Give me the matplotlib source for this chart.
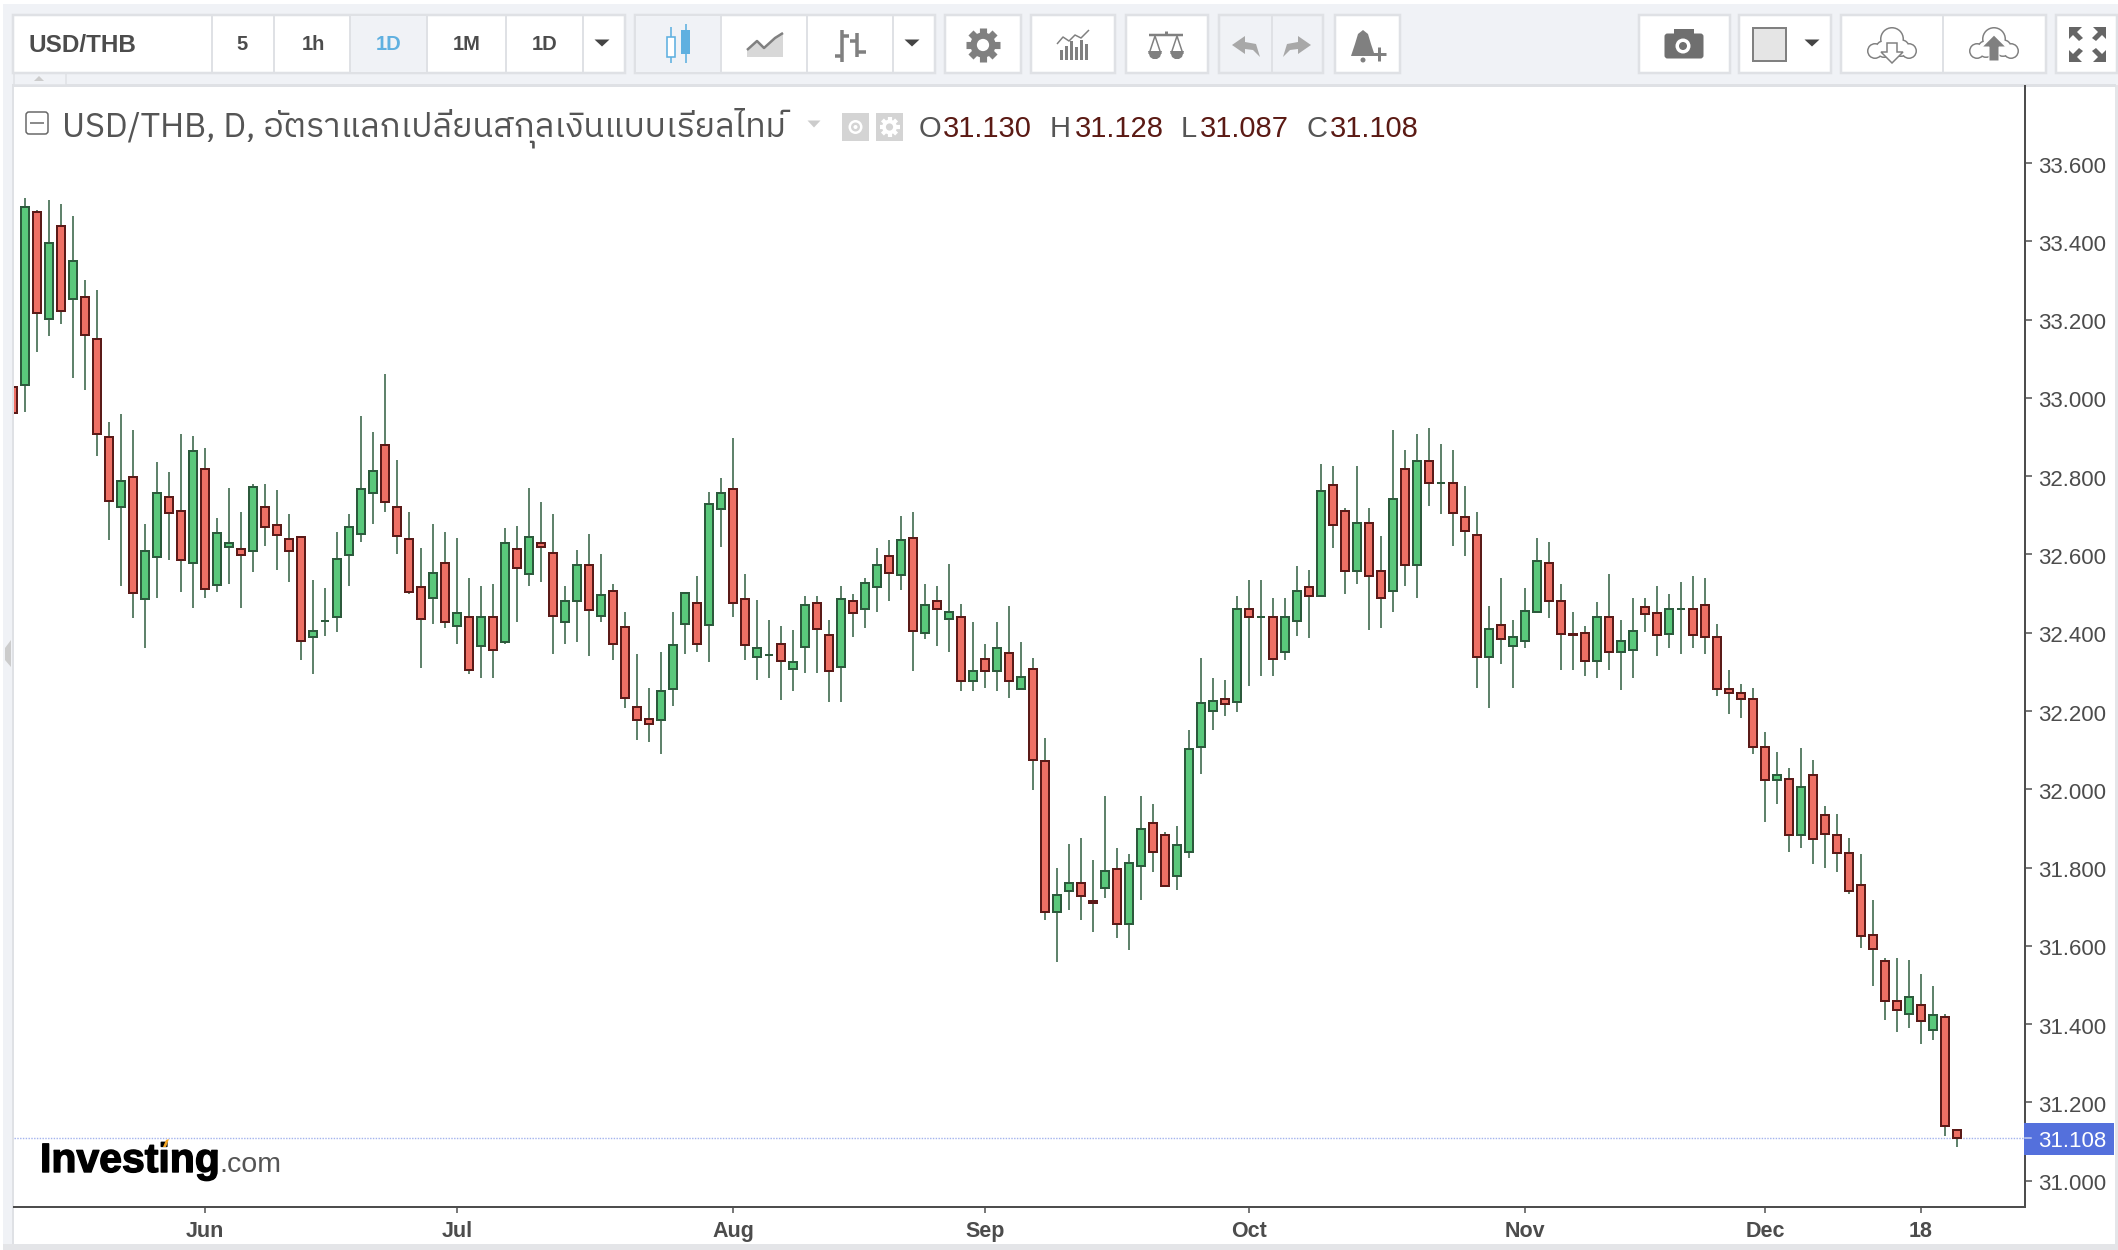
import numpy as np
import matplotlib
matplotlib.use("Agg")
import matplotlib.pyplot as plt
import matplotlib.patheffects as pe
from matplotlib import font_manager as fm
from matplotlib.ft2font import FT2Font
from matplotlib.patches import Rectangle, Circle, Polygon, FancyBboxPatch
from matplotlib.transforms import ScaledTranslation

# ---------- data ----------
opens = [33.029,
 33.033,33.474,33.201,33.438,33.252,33.259,33.151,32.901,32.720,32.799,
 32.485,32.593,32.748,32.712,32.577,32.819,32.521,32.618,32.615,32.608,
 32.722,32.676,32.640,32.645,32.388,32.431,32.439,32.598,32.653,32.756,
 32.880,32.722,32.640,32.517,32.490,32.578,32.418,32.440,32.367,32.440,
 32.377,32.614,32.551,32.630,32.604,32.428,32.480,32.573,32.444,32.507,
 32.415,32.210,32.180,32.178,32.255,32.423,32.476,32.419,32.716,32.768,
 32.487,32.337,32.344,32.370,32.307,32.363,32.477,32.395,32.312,32.482,
 32.460,32.516,32.595,32.547,32.641,32.399,32.482,32.435,32.441,32.276,
 32.334,32.302,32.349,32.256,32.308,32.073,31.687,31.739,31.761,31.714,
 31.749,31.796,31.657,31.805,31.914,31.883,31.779,31.841,32.107,32.199,
 32.231,32.224,32.461,32.441,32.441,32.352,32.429,32.517,32.495,32.778,
 32.712,32.557,32.681,32.558,32.506,32.819,32.572,32.839,32.783,32.783,
 32.696,32.650,32.337,32.420,32.367,32.378,32.454,32.579,32.482,32.398,
 32.400,32.327,32.441,32.352,32.357,32.466,32.451,32.398,32.460,32.461,
 32.472,32.390,32.257,32.247,32.231,32.109,32.025,32.027,31.882,32.037,
 31.935,31.884,31.838,31.756,31.628,31.562,31.459,31.427,31.449,31.386,
 31.418,31.130]
closes = [32.961,
 33.489,33.216,33.397,33.221,33.351,33.160,32.909,32.736,32.788,32.501,
 32.610,32.758,32.705,32.587,32.865,32.511,32.656,32.630,32.598,32.773,
 32.669,32.649,32.608,32.378,32.405,32.431,32.589,32.671,32.768,32.814,
 32.735,32.648,32.505,32.434,32.553,32.428,32.451,32.306,32.440,32.357,
 32.630,32.566,32.645,32.618,32.444,32.481,32.573,32.459,32.497,32.372,
 32.234,32.178,32.168,32.251,32.369,32.502,32.372,32.728,32.758,32.475,
 32.368,32.360,32.344,32.327,32.324,32.472,32.409,32.302,32.487,32.450,
 32.528,32.574,32.552,32.636,32.404,32.472,32.460,32.452,32.276,32.303,
 32.302,32.360,32.276,32.288,32.076,31.687,31.730,31.761,31.728,31.710,
 31.791,31.657,31.812,31.899,31.841,31.754,31.858,32.103,32.221,32.226,
 32.219,32.461,32.439,32.441,32.332,32.441,32.507,32.495,32.763,32.674,
 32.557,32.681,32.546,32.490,32.742,32.572,32.839,32.782,32.783,32.705,
 32.659,32.337,32.410,32.383,32.390,32.456,32.584,32.480,32.398,32.394,
 32.327,32.441,32.352,32.380,32.405,32.449,32.393,32.461,32.460,32.393,
 32.388,32.255,32.245,32.230,32.107,32.025,32.037,31.882,32.006,31.872,
 31.887,31.836,31.739,31.626,31.591,31.458,31.437,31.470,31.407,31.424,
 31.141,31.108]
highs = [33.060,
 33.510,33.479,33.506,33.496,33.465,33.301,33.276,32.938,32.959,32.918,
 32.678,32.836,32.811,32.908,32.903,32.872,32.693,32.770,32.708,32.780,
 32.780,32.765,32.703,32.645,32.535,32.514,32.657,32.703,32.953,32.912,
 33.061,32.841,32.708,32.616,32.677,32.657,32.641,32.539,32.519,32.524,
 32.667,32.672,32.769,32.733,32.703,32.519,32.611,32.652,32.601,32.524,
 32.452,32.345,32.258,32.350,32.452,32.502,32.544,32.760,32.796,32.898,
 32.550,32.484,32.433,32.417,32.407,32.494,32.494,32.433,32.520,32.499,
 32.540,32.617,32.637,32.699,32.709,32.525,32.520,32.576,32.474,32.428,
 32.371,32.428,32.469,32.377,32.335,32.130,31.798,31.860,31.875,31.819,
 31.982,31.849,31.834,31.982,31.962,31.890,31.906,32.151,32.335,32.284,
 32.279,32.493,32.534,32.534,32.488,32.488,32.570,32.560,32.831,32.826,
 32.719,32.826,32.719,32.647,32.918,32.867,32.908,32.923,32.882,32.867,
 32.775,32.708,32.468,32.540,32.432,32.514,32.642,32.632,32.524,32.453,
 32.417,32.478,32.550,32.432,32.489,32.489,32.519,32.499,32.530,32.545,
 32.540,32.422,32.305,32.269,32.259,32.146,32.095,32.054,32.105,32.075,
 31.957,31.936,31.875,31.834,31.717,31.568,31.568,31.563,31.528,31.497,
 31.425,31.130]
lows = [32.930,
 32.965,33.118,33.159,33.189,33.052,33.021,32.852,32.638,32.520,32.438,
 32.362,32.489,32.587,32.505,32.464,32.489,32.505,32.525,32.464,32.556,
 32.622,32.561,32.530,32.331,32.295,32.392,32.403,32.520,32.632,32.678,
 32.709,32.601,32.499,32.310,32.423,32.412,32.371,32.295,32.284,32.284,
 32.371,32.428,32.520,32.530,32.346,32.371,32.376,32.341,32.428,32.330,
 32.208,32.126,32.121,32.090,32.213,32.346,32.351,32.326,32.618,32.439,
 32.331,32.280,32.285,32.229,32.250,32.296,32.296,32.224,32.224,32.388,
 32.413,32.454,32.480,32.510,32.301,32.383,32.367,32.352,32.250,32.250,
 32.260,32.250,32.234,32.256,31.998,31.666,31.559,31.692,31.666,31.635,
 31.722,31.620,31.589,31.717,31.789,31.754,31.743,31.825,32.039,32.152,
 32.188,32.198,32.264,32.290,32.290,32.331,32.392,32.387,32.495,32.617,
 32.500,32.525,32.408,32.413,32.454,32.520,32.489,32.724,32.704,32.622,
 32.597,32.259,32.208,32.321,32.259,32.362,32.454,32.438,32.305,32.305,
 32.290,32.285,32.305,32.254,32.285,32.403,32.341,32.362,32.346,32.362,
 32.346,32.239,32.193,32.183,32.091,31.917,31.963,31.840,31.850,31.810,
 31.799,31.789,31.733,31.595,31.498,31.411,31.380,31.390,31.349,31.360,
 31.114,31.087]
month_labels = ["Jun", "Jul", "Aug", "Sep", "Oct", "Nov", "Dec", "18"]
month_index = [15, 36, 59, 80, 102, 125, 145, 158]
price_ticks = [31.0, 31.2, 31.4, 31.6, 31.8, 32.0, 32.2, 32.4, 32.6, 32.8,
               33.0, 33.2, 33.4, 33.6]
positions = np.arange(-1, len(opens) - 1)

# ---------- fonts ----------
plt.rcParams["font.family"] = ["Liberation Sans", "DejaVu Sans"]
thai_font = None
for f in fm.fontManager.ttflist:
    try:
        if 0x0E2D in FT2Font(f.fname).get_charmap():
            thai_font = f.name
            if "Noto" in f.name or "Sans" in f.name:
                break
    except Exception:
        pass
title_family = ([thai_font] if thai_font else []) + ["Liberation Sans", "DejaVu Sans"]

# ---------- figure ----------
W, H = 2118, 1250
px = 0.72
fig = plt.figure(figsize=(W / 100, H / 100), dpi=100, facecolor="white")
ui = fig.add_axes([0, 0, 1, 1], zorder=0)
ui.set_xlim(0, W); ui.set_ylim(H, 0); ui.axis("off")

BG = "#f0f2f6"; EDGE = "#dfe1e5"; ICON = "#808080"; TXT = "#4c4c4c"; BLUE = "#5fb0e0"

def rect(x0, y0, x1, y1, fc="white", ec="none", lw=0, z=1, **kw):
    ui.add_patch(Rectangle((x0, y0), x1 - x0, y1 - y0, fc=fc, ec=ec, lw=lw * px, zorder=z, **kw))

def line(xs, ys, c=ICON, lw=2, z=3, **kw):
    ui.plot(xs, ys, color=c, lw=lw * px, zorder=z, solid_capstyle="butt", **kw)

def tri(cx, cy, w=15, h=7, c="#444444", z=3):
    ui.add_patch(Polygon([(cx - w / 2, cy - h / 2), (cx + w / 2, cy - h / 2), (cx, cy + h / 2)], fc=c, ec="none", zorder=z))

# background chrome
rect(3, 4, W, 85, fc=BG)
rect(3, 4, 14, 1250, fc=BG)
rect(12, 85, 14, 1244, fc=EDGE)
rect(3, 1244, W, H, fc="#e4e5e8")
rect(2115, 85, W, H, fc="#e4e5e8")
rect(12, 84, 2116, 87, fc=EDGE)
rect(14, 73, 66, 85, fc=BG, ec=EDGE, lw=1.5)
ui.add_patch(Polygon([(34, 81), (44, 81), (39, 76)], fc="#cccccc", ec="none", zorder=3))
ui.add_patch(Polygon([(11, 640), (11, 667), (5, 660), (5, 648)], fc="#cccccc", ec="none", zorder=3))

# toolbar groups
def group(x0, x1, seps=(), fc="white"):
    rect(x0, 15, x1, 73, fc=fc, ec=EDGE, lw=2.5, z=1)
    for s in seps:
        line([s, s], [15, 73], c=EDGE, lw=2, z=2)

group(13, 625, (212, 274, 350, 427, 506, 583))
rect(351, 16, 427, 72, fc=BG, z=1.5)
group(635, 935, (721, 807, 893))
rect(636, 16, 721, 72, fc=BG, z=1.5)
group(945, 1021)
group(1031, 1115)
group(1126, 1208)
group(1219, 1323, (1272,), fc=BG)
group(1335, 1400)
group(1639, 1730)
group(1739, 1831)
group(1841, 2046, (1943,))
group(2056, 2117)

for s, x, c in [("USD/THB", 28, TXT)]:
    ui.text(x, 45, s, fontsize=17.5, fontweight="bold", color=c, va="center", ha="left", zorder=4)
for s, x, c in [("5", 242, TXT), ("1h", 313, TXT), ("1D", 389, BLUE), ("1M", 467, TXT), ("1D", 545, TXT)]:
    ui.text(x, 45, s, fontsize=14.5, fontweight="bold", color=c, va="center", ha="center", zorder=4)
tri(602, 43); tri(912, 43); tri(1812, 43)

# candle icon
line([671, 671], [27, 63], c=BLUE, lw=1.6)
ui.add_patch(Rectangle((667, 37), 8, 20, fc="white", ec=BLUE, lw=1.6 * px, zorder=4))
line([686, 686], [24, 63], c=BLUE, lw=1.6)
rect(681, 30, 690, 54, fc=BLUE, z=4)
# area icon
ui.add_patch(Polygon([(747, 57), (747, 50), (757, 41), (764, 48), (775, 38), (783, 33), (783, 57)], fc="#d8d8d8", ec="none", zorder=3))
line([747, 757, 764, 775, 783], [50, 41, 48, 38, 33], c=ICON, lw=2.5, z=4)
# bars icon
line([842, 842], [30, 62], lw=3.5); line([835, 842], [56, 56], lw=3.5); line([842, 849], [36, 36], lw=3.5)
line([857, 857], [33, 57], lw=3.5); line([850, 857], [41, 41], lw=3.5); line([857, 866], [52, 52], lw=3.5)

# gear
def gear(cx, cy, r, c=ICON, hole="white", z=3, tooth=None):
    tooth = tooth or r * 0.42
    for a in np.arange(0, np.pi, np.pi / 4):
        dx, dy = r * np.cos(a), r * np.sin(a)
        ui.plot([cx - dx, cx + dx], [cy - dy, cy + dy], color=c, lw=tooth * px, zorder=z, solid_capstyle="butt")
    ui.add_patch(Circle((cx, cy), r * 0.74, fc=c, ec="none", zorder=z))
    ui.add_patch(Circle((cx, cy), r * 0.36, fc=hole, ec="none", zorder=z + 0.1))

gear(983, 45, 17)
# indicators icon
for x, t in [(1061, 50), (1066, 46), (1071, 41), (1076, 47), (1081, 40), (1086, 44)]:
    rect(x - 1.5, t, x + 1.5, 60, fc=ICON, z=3)
line([1057, 1063, 1069, 1075, 1081, 1089], [44, 37, 41, 35, 38, 30], lw=1.5, z=4)
# scales icon
line([1149, 1183], [35, 35], lw=2.5); line([1166, 1166], [31, 35], lw=3)
for c0 in (1155, 1177):
    line([c0 - 6, c0, c0 + 6], [54, 36, 54], lw=1.5)
    ui.add_patch(Polygon([(c0 - 7, 51), (c0 + 7, 51), (c0 + 5, 57), (c0 + 2, 59), (c0 - 2, 59), (c0 - 5, 57)], fc=ICON, ec="none", zorder=3))
# undo / redo
ui.add_patch(Polygon([(1232, 45), (1245, 36), (1245, 42), (1256, 44), (1260, 57), (1253, 50), (1245, 49), (1245, 54)], fc="#a8a8a8", ec="none", zorder=3))
ui.add_patch(Polygon([(1311, 45), (1298, 36), (1298, 42), (1287, 44), (1283, 57), (1290, 50), (1298, 49), (1298, 54)], fc="#a8a8a8", ec="none", zorder=3))
# bell
ui.add_patch(Polygon([(1363, 30), (1368, 34), (1371, 44), (1375, 56), (1351, 56), (1355, 44), (1358, 34)], fc=ICON, ec="none", zorder=3))
ui.add_patch(Circle((1363, 60), 2.5, fc=ICON, ec="none", zorder=3))
line([1372, 1386], [54, 54], lw=3); line([1379, 1379], [47, 61], lw=3)
# camera
ui.add_patch(FancyBboxPatch((1666, 35), 36, 22, boxstyle="round,pad=1.5,rounding_size=3", fc="#6f6f6f", ec="none", zorder=3))
rect(1674, 29, 1694, 36, fc="#6f6f6f", z=3)
ui.add_patch(Circle((1683, 46), 7.5, fc="white", ec="none", zorder=4))
ui.add_patch(Circle((1683, 46), 4, fc="#6f6f6f", ec="none", zorder=5))
# colour swatch
rect(1753, 28, 1786, 61, fc="#e5e5e5", ec=ICON, lw=2, z=3)

# clouds
def cloud(cx, cy):
    parts = [(cx, cy - 6, 12), (cx - 17, cy + 6, 8), (cx + 17, cy + 6, 8), (cx - 8, cy + 4, 9), (cx + 9, cy + 3, 9)]
    for x, y, r in parts:
        ui.add_patch(Circle((x, y), r, fc=ICON, ec="none", zorder=3))
    for x, y, r in parts:
        ui.add_patch(Circle((x, y), r - 1.5, fc="white", ec="none", zorder=3.1))

cloud(1892, 45)
cloud(1994, 45)
ui.add_patch(Polygon([(1887, 43), (1897, 43), (1897, 52), (1903, 52), (1892, 63), (1881, 52), (1887, 52)], fc="white", ec=ICON, lw=1.5 * px, zorder=4))
ui.add_patch(Polygon([(1989, 61), (1999, 61), (1999, 47), (2006, 47), (1994, 35), (1982, 47), (1989, 47)], fc=ICON, ec="white", lw=1 * px, zorder=4))
# fullscreen
for sx, sy, cx, cy in [(1, 1, 2069, 27), (-1, 1, 2106, 27), (1, -1, 2069, 62), (-1, -1, 2106, 62)]:
    ui.add_patch(Polygon([(cx, cy), (cx + 13 * sx, cy), (cx + 8 * sx, cy + 5 * sy), (cx + 14 * sx, cy + 11 * sy), (cx + 10 * sx, cy + 14 * sy), (cx + 4 * sx, cy + 8 * sy), (cx, cy + 12 * sy)],
                         fc="#666666", ec="none", zorder=3))

# legend header
ui.add_patch(FancyBboxPatch((26, 112), 22, 22, boxstyle="round,pad=0,rounding_size=3", fc="white", ec="#666666", lw=1.5 * px, zorder=3))
line([30, 44], [123, 123], c="#666666", lw=1.5)
ui.text(62, 128, "USD/THB, D, อัตราแลกเปลี่ยนสกุลเงินแบบเรียลไทม์", fontsize=24.5,
        family=title_family, color="#555555", va="center", ha="left", zorder=4)
tri(814, 124, w=13, h=7, c="#cccccc")
rect(842, 113, 869, 141, fc="#d4d4d4", z=3)
ui.add_patch(Circle((855.5, 127), 7, fc="white", ec="none", zorder=4))
ui.add_patch(Circle((855.5, 127), 4.5, fc="#d4d4d4", ec="none", zorder=4.1))
ui.add_patch(Circle((855.5, 127), 2, fc="white", ec="none", zorder=4.2))
rect(876, 113, 903, 141, fc="#d4d4d4", z=3)
gear(889.5, 127, 10, c="white", hole="#d4d4d4", z=4)

for lab, xl, val, xv in [("O", 919, "31.130", 943), ("H", 1050, "31.128", 1075),
                         ("L", 1181, "31.087", 1200), ("C", 1307, "31.108", 1330)]:
    ui.text(xl, 129, lab, fontsize=21, color="#555555", va="center", ha="left", zorder=4)
    ui.text(xv, 129, val, fontsize=21, color="#5b1a14", va="center", ha="left", zorder=4)

# logo
ui.text(40, 1172, "Investing", fontsize=29.5, fontweight="bold", color="black", va="baseline", ha="left", zorder=4,
        path_effects=[pe.withStroke(linewidth=1.0, foreground="black")])
ui.text(219, 1172, ".com", fontsize=20.5, color="#555555", va="baseline", ha="left", zorder=4)
ui.add_patch(Polygon([(163, 1147), (166, 1147), (169, 1139), (166, 1140)], fc="#f5a623", ec="none", zorder=5))

# ---------- chart ----------
AX_L, AX_R, AX_T, AX_B = 14, 2025, 86, 1206.7
ax = fig.add_axes([AX_L / W, 1 - AX_B / H, (AX_R - AX_L) / W, (AX_B - AX_T) / H], zorder=1)
ax.set_facecolor("none")
ax.set_xlim((AX_L - 25) / 12, (AX_R - 25) / 12)
ax.set_ylim(31 + (1180.7 - AX_B) / 391.4, 31 + (1180.7 - AX_T) / 391.4)

o = np.array(opens); c = np.array(closes); h = np.array(highs); l = np.array(lows)
up = c >= o
ax.vlines(positions, l, h, color="#2c5a3c", lw=1.5 * px, zorder=2)
ax.bar(positions[up], (c - o)[up], bottom=o[up], width=0.6, color="#5ac87b",
       edgecolor="#2c5a3c", linewidth=2 * px, zorder=3)
ax.bar(positions[~up], (o - c)[~up], bottom=c[~up], width=0.6, color="#ee7065",
       edgecolor="#5b1a18", linewidth=2 * px, zorder=3)

ax.axhline(closes[-1], color="#a3b3ee", lw=1.4 * px, ls=(0, (1, 1)), zorder=1)

for s in ("top", "left"):
    ax.spines[s].set_visible(False)
for s in ("right", "bottom"):
    ax.spines[s].set_color("#4d4d4d")
    ax.spines[s].set_linewidth(2 * px)
ax.yaxis.tick_right()
ax.set_yticks(price_ticks, [f"{v:.3f}" for v in price_ticks])
ax.set_xticks(month_index, month_labels)
ax.tick_params(axis="y", length=7 * px, width=1.5 * px, color="#4d4d4d", labelcolor=TXT,
               labelsize=16, pad=6 * px)
ax.tick_params(axis="x", length=6 * px, width=1.5 * px, color="#4d4d4d", labelcolor=TXT,
               labelsize=15.5, pad=8 * px)
for t in ax.get_xticklabels():
    t.set_fontweight("bold")
shift = ScaledTranslation(0, -1.5 / 100, fig.dpi_scale_trans)
for t in ax.get_yticklabels():
    t.set_transform(t.get_transform() + shift)

# last-price tag
tr = ax.get_yaxis_transform()
ax.add_patch(Rectangle((1 - 1 / (AX_R - AX_L), closes[-1] - 16.5 / 391.4), 90 / (AX_R - AX_L), 32 / 391.4,
                       transform=tr, fc="#5470dc", ec="none", clip_on=False, zorder=6))
ax.plot([1, 1 + 6 / (AX_R - AX_L)], [closes[-1]] * 2, transform=tr, color="#c5cff2", lw=1.5 * px, clip_on=False, zorder=7)
ax.text(1 + 13 / (AX_R - AX_L), closes[-1] - 3 / 391.4, f"{closes[-1]:.3f}", transform=tr, color="white", fontsize=16,
        va="center", ha="left", zorder=8, clip_on=False)

fig.savefig("out.png", dpi=100, facecolor="white")
